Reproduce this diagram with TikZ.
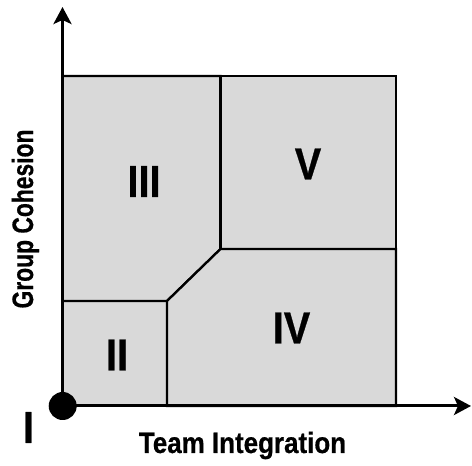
\documentclass[tikz,border=0pt]{standalone}
\usepackage{fontspec}
\setmainfont{Liberation Sans}
\newfontfamily\condfont[FakeStretch=0.88,FakeBold=0.6]{Liberation Sans Bold}
\usetikzlibrary{arrows.meta}
\definecolor{regiongray}{HTML}{D9D9D9}
\tikzset{
  region/.style={fill=regiongray, draw=black, line width=2.3pt, line join=miter},
  axis/.style={line width=3pt, -{Stealth[length=17pt,width=18pt,inset=4pt]}},
  numeral/.style={font=\condfont\fontsize{45}{45}\selectfont, inner sep=0pt},
  axislabel/.style={font=\condfont\fontsize{29.5}{29.5}\selectfont, inner sep=0pt}
}
\begin{document}
\begin{tikzpicture}[x=1pt,y=1pt]
\useasboundingbox (0,0) rectangle (472,466);
% corner coordinates
\coordinate (O) at (62.5,60);
\coordinate (xtip) at (471,60);
\coordinate (ytip) at (62.5,459);
% regions
\draw[region] (62.5,60) rectangle (167,165);
\draw[region] (62.5,165) -- (167,165) -- (220.5,217) -- (220.5,390) -- (62.5,390) -- cycle;
\draw[region] (220.5,217) rectangle (396,390);
\draw[region] (167,60) -- (396,60) -- (396,217) -- (220.5,217) -- (167,165) -- cycle;
% axes
\draw[axis] (O) -- (xtip);
\draw[axis] (O) -- (ytip);
\node[circle, fill=black, minimum size=28pt, inner sep=0pt] (dot) at (62.7,60) {};
% labels
\node[numeral] (r3) at (144,284.5) {III};
\node[numeral] (r5) at (308,302) {V};
\node[numeral] (r4) at (291.5,138) {IV};
\node[numeral] (r2) at (117,111) {II};
\node[numeral] (r1) at (28.5,38.5) {I};
\node[axislabel, anchor=base] (xl) at (242.5,13) {Team Integration};
\node[axislabel, anchor=base, rotate=90] (yl) at (33,247) {\scalebox{0.88}[1]{Group Cohesion}};
\end{tikzpicture}
\end{document}
